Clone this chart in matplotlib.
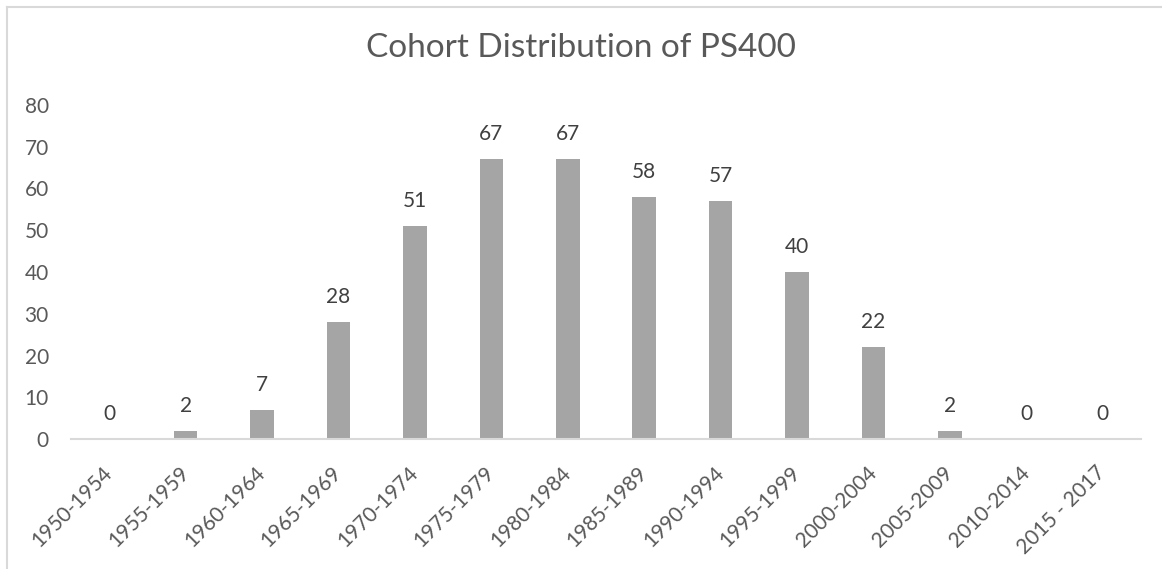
import matplotlib
matplotlib.use("Agg")
import matplotlib.pyplot as plt
from matplotlib.lines import Line2D

categories = ["1950-1954", "1955-1959", "1960-1964", "1965-1969", "1970-1974",
              "1975-1979", "1980-1984", "1985-1989", "1990-1994", "1995-1999",
              "2000-2004", "2005-2009", "2010-2014", "2015 - 2017"]
values = [0, 2, 7, 28, 51, 67, 67, 58, 57, 40, 22, 2, 0, 0]
yticks = [0, 10, 20, 30, 40, 50, 60, 70, 80]
title = "Cohort Distribution of PS400"

plt.rcParams['font.family'] = ['Lato', 'DejaVu Sans']

W, H = 1162, 569
fig = plt.figure(figsize=(W / 100, H / 100), dpi=100)
ax = fig.add_axes([71 / W, 1 - 439 / H, (1141 - 71) / W, (439 - 105) / H])

x = list(range(len(categories)))
bars = ax.bar(x, values, width=0.31, color="#A5A5A5", zorder=2)
ax.set_xlim(-0.5, len(categories) - 0.5)
ax.set_ylim(0, 80)
ax.set_yticks(yticks)
ax.set_yticklabels([str(t) for t in yticks], fontsize=15, color="#595959")
ax.set_xticks(x)
ax.set_xticklabels(categories, fontsize=15, color="#595959", rotation=45,
                   ha="right", rotation_mode="anchor", va="center")
ax.tick_params(axis="y", length=0, pad=16)
ax.tick_params(axis="x", length=0, pad=22)

for s in ["top", "right", "left"]:
    ax.spines[s].set_visible(False)
ax.spines["bottom"].set_color("#D9D9D9")
ax.spines["bottom"].set_linewidth(1.5)

for xi, v in zip(x, values):
    ax.annotate(str(v), (xi, v), xytext=(0, 18), textcoords="offset points",
                ha="center", va="center", fontsize=15, color="#404040")

fig.text(0.5, 1 - 48 / H, title, ha="center", va="center", fontsize=24,
         color="#595959")

# chart border (left and top edges)
fig.add_artist(Line2D([7 / W, 7 / W], [0, 1 - 7 / H], transform=fig.transFigure,
                      color="#D9D9D9", lw=1.5))
fig.add_artist(Line2D([7 / W, 1], [1 - 7 / H, 1 - 7 / H], transform=fig.transFigure,
                      color="#D9D9D9", lw=1.5))

fig.savefig("out.png", dpi=100)
